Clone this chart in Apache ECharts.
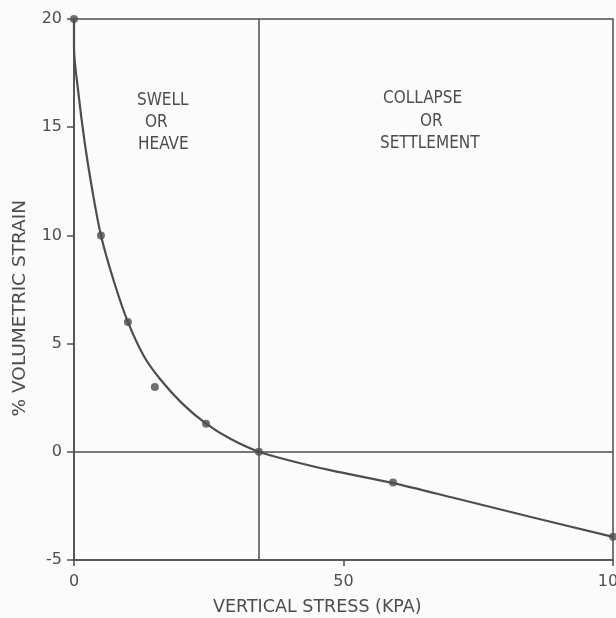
<!DOCTYPE html>
<html><head><meta charset="utf-8">
<script src="https://cdn.jsdelivr.net/npm/echarts@6/dist/echarts.min.js"></script>
<style>html,body{margin:0;padding:0;background:#fbfbfb;}#c{width:616px;height:618px;}</style>
</head><body><div id="c"></div>
<script>
// Data
var xTicks = [0, 50, 100];
var yTicks = [-5, 0, 5, 10, 15, 20];
var observedStress = [0, 5, 10, 15, 24.5, 34.3, 59.2, 100];
var observedStrain = [20, 10, 6, 3.0, 1.3, 0, -1.42, -3.93];
var curveStress = [0, 0, 0.76, 2.0, 3.32, 5, 7.5, 10, 13, 16, 20, 24.5, 29, 34.3, 40, 47.5, 59.2, 70, 84.6, 100];
var curveStrain = [20, 18.7, 16.7, 14.26, 12.2, 10, 7.8, 6.0, 4.4, 3.35, 2.25, 1.3, 0.6, 0, -0.4, -0.85, -1.45, -2.1, -3.0, -3.93];
var boundaryStress = 34.3;
var zeroStrain = 0;

var ink = '#4d4d4d';
var condensed = '"DejaVu Sans Condensed", "DejaVu Sans", sans-serif';
var sans = '"DejaVu Sans", sans-serif';

var chart = echarts.init(document.getElementById('c'));
chart.setOption({
  backgroundColor: '#fbfbfb',
  animation: false,
  grid: {left: 74, right: 3, top: 19, bottom: 58, containLabel: false, outerBoundsMode: 'none',
    show: true, borderColor: ink, borderWidth: 1.5},
  xAxis: {
    type: 'value', min: 0, max: 100, interval: 50,
    axisLine: {show: true, onZero: false, lineStyle: {color: ink, width: 1.5}},
    axisTick: {show: true, length: 6, lineStyle: {color: ink, width: 1.5}},
    splitLine: {show: false},
    axisLabel: {color: ink, fontFamily: sans, fontSize: 16, margin: 14,
      formatter: function (v) { return xTicks.indexOf(v) >= 0 ? String(v) : ''; }}
  },
  yAxis: {
    type: 'value', min: -5, max: 20, interval: 5,
    axisLine: {show: true, onZero: false, lineStyle: {color: ink, width: 1.5}},
    axisTick: {show: true, length: 7, lineStyle: {color: ink, width: 1.5}},
    splitLine: {show: false},
    axisLabel: {color: ink, fontFamily: sans, fontSize: 16, margin: 12,
      formatter: function (v) { return yTicks.indexOf(v) >= 0 ? String(v) : ''; }}
  },
  graphic: [
    {type: 'text', left: 213, top: 598, style: {text: 'VERTICAL STRESS (KPA)', fill: ink, font: '17.5px ' + sans}},
    {type: 'text', left: 11, top: 200, rotation: Math.PI / 2, style: {text: '% VOLUMETRIC STRAIN', fill: ink, font: '18.5px ' + sans}},
    {type: 'text', left: 137, top: 92, style: {text: 'SWELL', fill: ink, font: '17px ' + condensed}},
    {type: 'text', left: 145, top: 114, style: {text: 'OR', fill: ink, font: '17px ' + condensed}},
    {type: 'text', left: 138, top: 136, style: {text: 'HEAVE', fill: ink, font: '17px ' + condensed}},
    {type: 'text', left: 383, top: 90, style: {text: 'COLLAPSE', fill: ink, font: '17px ' + condensed}},
    {type: 'text', left: 420, top: 113, style: {text: 'OR', fill: ink, font: '17px ' + condensed}},
    {type: 'text', left: 380, top: 135, style: {text: 'SETTLEMENT', fill: ink, font: '17px ' + condensed}}
  ],
  series: [
    {
      type: 'line', smooth: 0.3, symbol: 'none',
      data: curveStress.map(function (x, i) { return [x, curveStrain[i]]; }),
      lineStyle: {color: ink, width: 2.2},
      markLine: {
        silent: true, symbol: 'none', label: {show: false},
        lineStyle: {color: ink, width: 1.5, type: 'solid'},
        data: [{xAxis: boundaryStress}, {yAxis: zeroStrain}]
      }
    },
    {
      type: 'scatter', symbol: 'circle', symbolSize: 8,
      data: observedStress.map(function (x, i) { return [x, observedStrain[i]]; }),
      itemStyle: {color: ink}
    }
  ]
});
</script></body></html>
